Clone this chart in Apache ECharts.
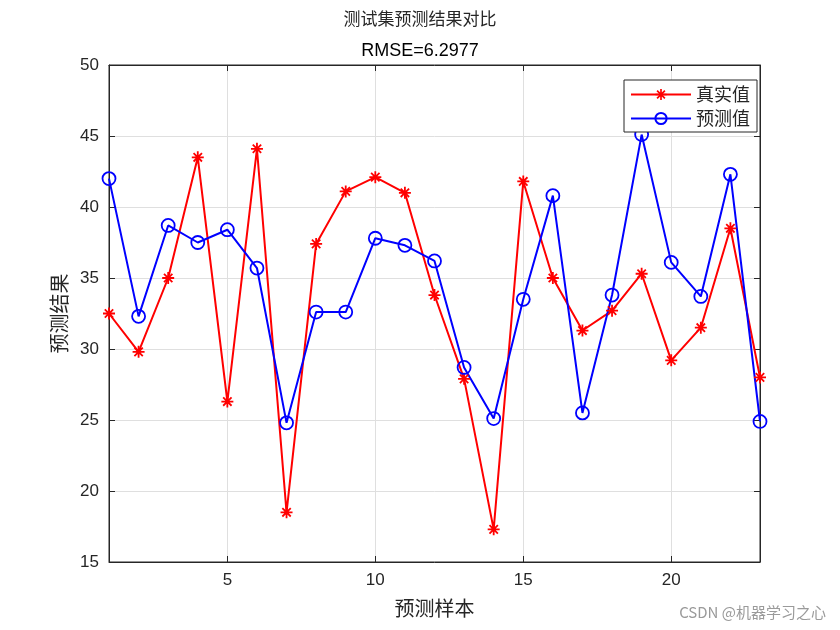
<!DOCTYPE html>
<html>
<head>
<meta charset="utf-8">
<script src="https://cdn.jsdelivr.net/npm/echarts@6/dist/echarts.min.js"></script>
<style>html,body{margin:0;padding:0;background:#fff;}#c{width:840px;height:630px;}</style>
</head>
<body>
<div id="c"></div>
<script>
var samples = [1,2,3,4,5,6,7,8,9,10,11,12,13,14,15,16,17,18,19,20,21,22,23];
var trueVals = [32.5,29.8,35.0,43.5,26.3,44.1,18.5,37.4,41.1,42.1,41.0,33.8,27.9,17.3,41.8,35.0,31.3,32.7,35.3,29.2,31.5,38.5,28.0];
var predVals = [42.0,32.3,38.7,37.5,38.4,35.7,24.8,32.6,32.6,37.8,37.3,36.2,28.7,25.1,33.5,40.8,25.5,33.8,45.1,36.1,33.7,42.3,24.9];
var xTicks = [5,10,15,20];
var titleText = '测试集预测结果对比';
var subText = 'RMSE=6.2977';

var asterisk = 'path://M-1,-0.15L1,-0.15L1,0.15L-1,0.15Z M-0.15,-1L0.15,-1L0.15,1L-0.15,1Z M-0.806,-0.594L-0.594,-0.806L0.806,0.594L0.594,0.806Z M-0.806,0.594L0.594,-0.806L0.806,-0.594L-0.594,0.806Z';

var chart = echarts.init(document.getElementById('c'));
var cjk = '"Noto Sans CJK SC", sans-serif';
var num = '"Liberation Sans", Arial, sans-serif';
var axisCol = '#262626';
function pairs(arr){ return samples.map(function(s,i){ return [s, arr[i]]; }); }

chart.setOption({
  animation: false,
  backgroundColor: '#fff',
  title: [
    {text: titleText, left: 'center', top: 5, textStyle: {fontFamily: cjk, fontSize: 17, fontWeight: 'normal', color: '#262626'}},
    {text: subText, left: 'center', top: 37, textStyle: {fontFamily: num, fontSize: 18, fontWeight: 'normal', color: '#000'}}
  ],
  grid: {left: 109, right: 80, top: 65, bottom: 68, show: true, borderColor: axisCol, borderWidth: 1, backgroundColor: '#fff'},
  legend: {
    right: 83, top: 80, orient: 'vertical',
    backgroundColor: '#fff', borderColor: '#262626', borderWidth: 1, borderRadius: 0,
    padding: [4, 7, 3, 6], itemGap: 3, itemWidth: 60, itemHeight: 14,
    textStyle: {fontFamily: cjk, fontSize: 18, lineHeight: 21, color: '#262626'},
    data: ['真实值', '预测值']
  },
  xAxis: [{
    type: 'value', min: 1, max: 23,
    name: '预测样本', nameLocation: 'middle', nameGap: 36,
    nameTextStyle: {fontFamily: cjk, fontSize: 20, color: '#262626'},
    axisLine: {show: true, lineStyle: {color: axisCol}},
    axisTick: {show: true, inside: true, length: 6, lineStyle: {color: axisCol}, customValues: xTicks},
    axisLabel: {customValues: xTicks, fontFamily: num, fontSize: 17, color: '#262626', margin: 10},
    splitLine: {show: true, lineStyle: {color: '#dfdfdf', width: 1}}
  }, {
    type: 'value', min: 1, max: 23, position: 'top',
    axisLine: {show: true, lineStyle: {color: axisCol}},
    axisTick: {show: true, inside: true, length: 6, lineStyle: {color: axisCol}, customValues: xTicks},
    axisLabel: {show: false},
    splitLine: {show: false}
  }],
  yAxis: [{
    type: 'value', min: 15, max: 50, interval: 5,
    name: '预测结果', nameLocation: 'middle', nameGap: 33,
    nameTextStyle: {fontFamily: cjk, fontSize: 20, color: '#262626'},
    axisLine: {show: true, lineStyle: {color: axisCol}},
    axisTick: {show: true, inside: true, length: 6, lineStyle: {color: axisCol}},
    axisLabel: {fontFamily: num, fontSize: 17, color: '#262626', margin: 10},
    splitLine: {show: true, lineStyle: {color: '#dfdfdf', width: 1}}
  }, {
    type: 'value', min: 15, max: 50, interval: 5, position: 'right',
    axisLine: {show: true, lineStyle: {color: axisCol}},
    axisTick: {show: true, inside: true, length: 6, lineStyle: {color: axisCol}},
    axisLabel: {show: false},
    splitLine: {show: false}
  }],
  series: [{
    name: '真实值', type: 'line', data: pairs(trueVals),
    symbol: asterisk, symbolSize: 12, showAllSymbol: true,
    lineStyle: {color: '#ff0000', width: 2},
    itemStyle: {color: '#ff0000'}
  }, {
    name: '预测值', type: 'line', data: pairs(predVals),
    symbol: 'circle', symbolSize: 13, showAllSymbol: true,
    lineStyle: {color: '#0000ff', width: 2},
    itemStyle: {color: 'rgba(0,0,0,0)', borderColor: '#0000ff', borderWidth: 1.8}
  }],
  graphic: [{
    type: 'text', right: 14, bottom: 10,
    style: {text: 'CSDN @机器学习之心', fontFamily: cjk, fontSize: 15, fill: '#9a9a9a'}
  }]
});
</script>
</body>
</html>
